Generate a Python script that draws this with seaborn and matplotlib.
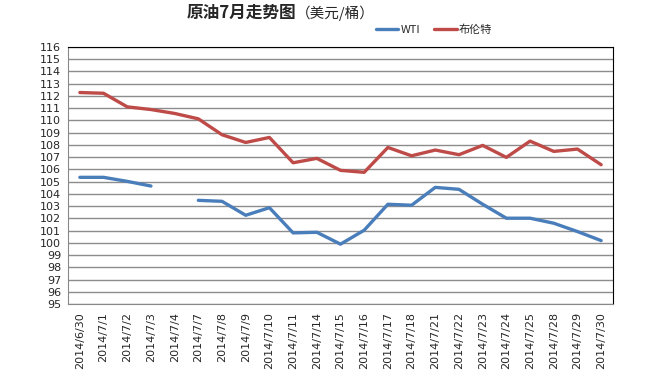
import numpy as np
import pandas as pd
import seaborn as sns
import matplotlib.pyplot as plt

dates = ['2014/6/30', '2014/7/1', '2014/7/2', '2014/7/3', '2014/7/4', '2014/7/7',
         '2014/7/8', '2014/7/9', '2014/7/10', '2014/7/11', '2014/7/14', '2014/7/15',
         '2014/7/16', '2014/7/17', '2014/7/18', '2014/7/21', '2014/7/22', '2014/7/23',
         '2014/7/24', '2014/7/25', '2014/7/28', '2014/7/29', '2014/7/30']
wti = [105.35, 105.35, 105.02, 104.64, np.nan, 103.47, 103.39, 102.25, 102.87, 100.81,
       100.86, 99.89, 101.03, 103.15, 103.07, 104.53, 104.37, 103.15, 102.01, 102.01,
       101.6, 100.92, 100.18]
brent = [112.28, 112.22, 111.11, 110.89, 110.57, 110.13, 108.83, 108.2, 108.61, 106.54,
         106.9, 105.92, 105.76, 107.79, 107.11, 107.58, 107.2, 107.96, 106.98, 108.31,
         107.47, 107.66, 106.38]
series_names = ['WTI', '布伦特']
colors = ['#4A7EBB', '#BE4B48']

sns.set_style('white')
plt.rcParams['font.family'] = ['Noto Sans CJK SC', 'DejaVu Sans']

df = pd.DataFrame({'pos': range(len(dates)), 'WTI': wti, '布伦特': brent})
long = df.melt(id_vars='pos', var_name='series', value_name='price')

fig = plt.figure(figsize=(6.5, 3.77), dpi=100)
ax = fig.add_axes([68 / 650, 1 - 304 / 377, (613 - 68) / 650, (304 - 47) / 377])

for name, col in zip(series_names, colors):
    sub = long[long['series'] == name]
    # break the line where there is no quote
    grp = sub['price'].isna().cumsum()
    for _, part in sub.dropna().groupby(grp[sub['price'].notna()]):
        sns.lineplot(data=part, x='pos', y='price', color=col, lw=2.4,
                     estimator=None, ax=ax, label=None)

ax.set_xlim(-0.5, len(dates) - 0.5)
ax.set_ylim(95, 116)
ax.set_yticks(range(95, 117))
ax.set_yticklabels([str(v) for v in range(95, 117)], fontsize=8, family='DejaVu Sans')
ax.set_xticks(np.arange(len(dates)) - 0.5, minor=False)
ax.set_xticklabels([])
ax.set_xticks(np.arange(len(dates)), minor=True)
ax.set_xticklabels(dates, minor=True, rotation=90, fontsize=8, family='DejaVu Sans')
ax.tick_params(axis='x', which='major', length=4, color='#888888', direction='out')
ax.tick_params(axis='x', which='minor', length=0, pad=6)
ax.tick_params(axis='y', length=3, color='#888888', pad=2)
ax.set_xlabel('')
ax.set_ylabel('')
ax.grid(axis='y', color='#8c8c8c', lw=1)
ax.set_axisbelow(True)
for s in ['left', 'bottom']:
    ax.spines[s].set_color('#888888')
for s in ['top', 'right']:
    ax.spines[s].set_color('black')
if ax.get_legend():
    ax.get_legend().remove()

# title in two parts
fig.text(296 / 650, 1 - 13 / 377, '原油7月走势图', fontsize=12, fontweight='bold', ha='right', va='center')
fig.text(296 / 650, 1 - 13 / 377, '（美元/桶）', fontsize=10.5, ha='left', va='center')

# legend
handles = [plt.Line2D([], [], color=c, lw=2.4) for c in colors]
fig.legend(handles, series_names, loc='center', bbox_to_anchor=(434 / 650, 1 - 30 / 377), ncol=2,
           frameon=False, fontsize=8, handlelength=2.0, columnspacing=1.3, handletextpad=0.2)

fig.savefig('out.png', dpi=100)
